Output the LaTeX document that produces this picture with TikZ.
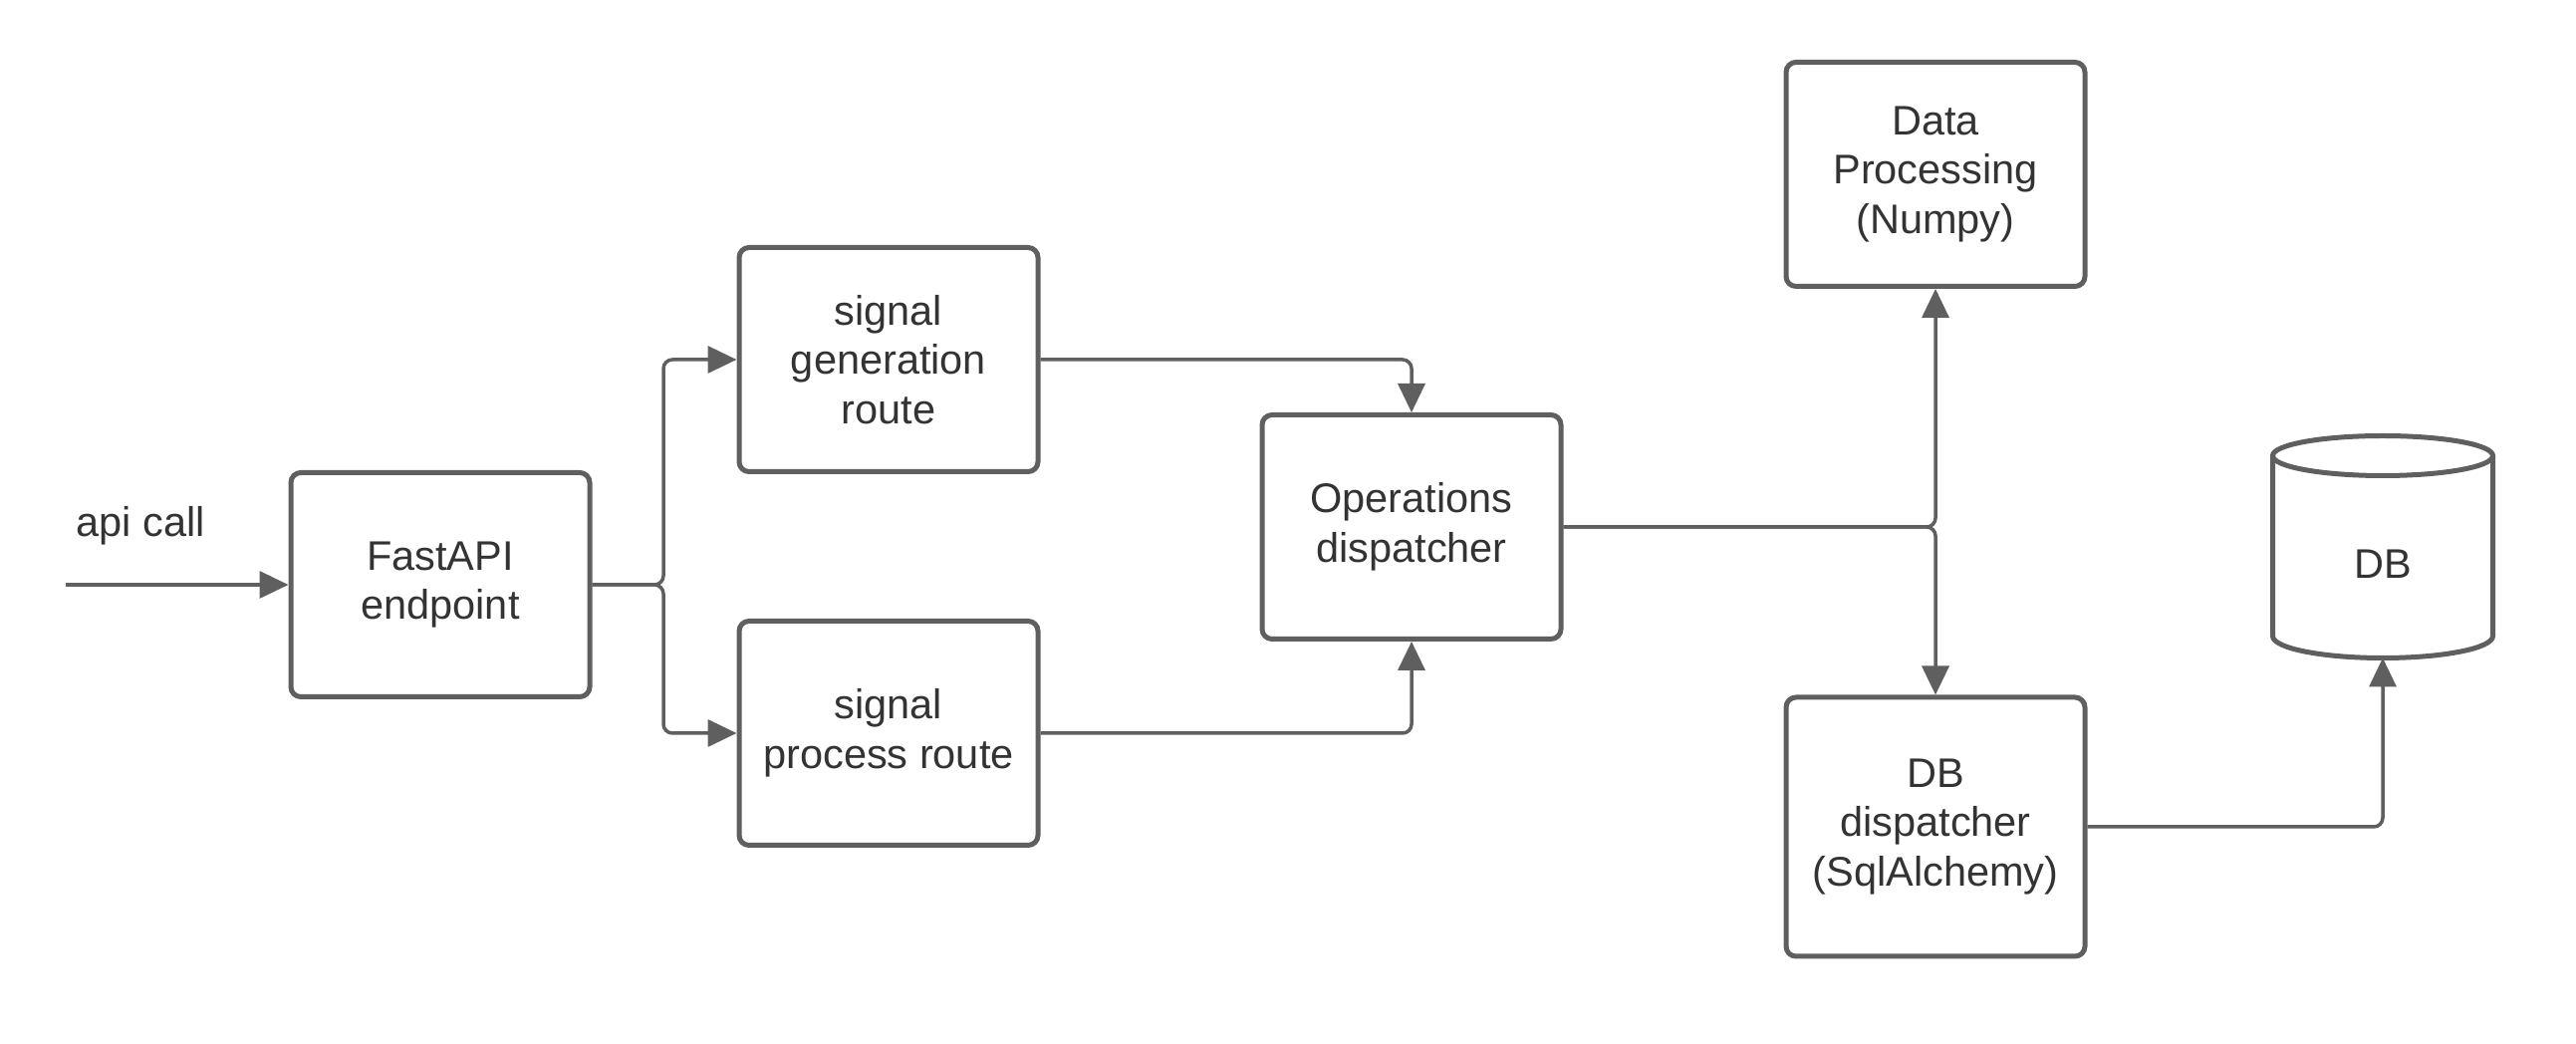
\documentclass[tikz,border=0pt]{standalone}
\usepackage{fontspec}
\setmainfont{Liberation Sans}
\usetikzlibrary{arrows.meta,calc}
\definecolor{linegray}{HTML}{5F5F5F}
\definecolor{textgray}{HTML}{333333}
\tikzset{
  box/.style={draw=linegray, line width=5pt, rounded corners=10pt, fill=white,
    minimum width=300pt, minimum height=225pt, align=center, text=textgray,
    font=\fontsize{41.5}{49.5}\selectfont, inner sep=0pt},
  conn/.style={draw=linegray, line width=3.5pt, rounded corners=9pt,
    -{Triangle[length=29pt,width=27pt]}},
  lbl/.style={text=textgray, font=\fontsize{41.5}{49.5}\selectfont, inner sep=0pt}
}
\begin{document}
\begin{tikzpicture}[x=1pt,y=1pt]
\useasboundingbox (0,0) rectangle (2586,1048);
\node[box] (fast) at (442,461) {FastAPI\\endpoint};
\node[box] (gen) at (892,687) {signal\\generation\\route};
\node[box] (proc) at (892,312) {signal\\process route};
\node[box] (ops) at (1417,519) {Operations\\dispatcher};
\node[box] (dp) at (1943,873) {Data\\Processing\\(Numpy)};
\node[box, minimum height=260pt] (dbd) at (1943,218) {DB\\dispatcher\\(SqlAlchemy)};
% database cylinder
\node[minimum width=226pt, minimum height=225pt, inner sep=0pt, outer sep=0pt] (db) at (2392,500) {};
\node[lbl] (dblabel) at (2392,482) {DB};
\draw[linegray, line width=5pt]
  ($(db.north west)+(2.5,-22)$) -- ($(db.south west)+(2.5,22)$)
  arc[start angle=180,end angle=360,x radius=110.5pt,y radius=22pt]
  -- ($(db.north east)+(-2.5,-22)$);
\draw[linegray, line width=5pt] ($(db.north)+(0,-22)$) ellipse[x radius=110.5pt, y radius=20pt];
% input
\coordinate (start) at (66,461);
\node[lbl, anchor=base] (api) at (141,509) {api call};
\draw[conn] (start) -- (fast.west);
% split to routes
\coordinate (s1) at (666,461);
\draw[conn] (fast.east) -- (s1) |- (gen.west);
\draw[conn] (fast.east) -- (s1) |- (proc.west);
% routes to ops
\draw[conn] (gen.east) -| (ops.north);
\draw[conn] (proc.east) -| (ops.south);
% ops to data processing and db dispatcher
\draw[conn] (ops.east) -| (dp.south);
\draw[conn] (ops.east) -| (dbd.north);
% db dispatcher to db
\draw[conn] (dbd.east) -| (db.south);
\end{tikzpicture}
\end{document}
